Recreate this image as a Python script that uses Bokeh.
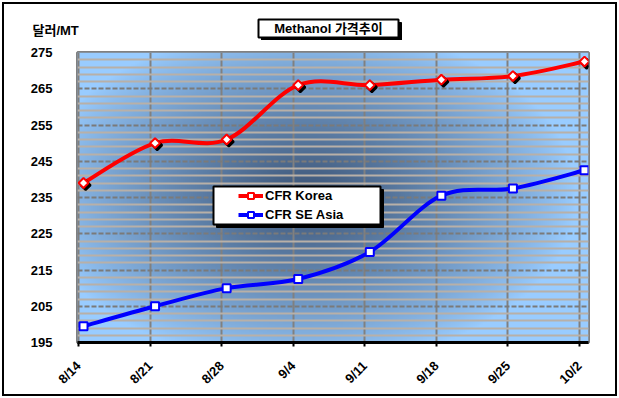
import numpy as np
from bokeh.plotting import figure
from bokeh.layouts import column
from bokeh.models import (FixedTicker, Label, Legend, LegendItem, BoxAnnotation,
                          ColumnDataSource, Range1d)
from bokeh.transform import dodge
from bokeh.embed import file_html
from bokeh.resources import INLINE

# ---- data ----
dates = ["8/14", "8/21", "8/28", "9/4", "9/11", "9/18", "9/25", "10/2"]
korea = [239, 250, 251, 266, 266, 267.5, 268.5, 272.5]
se_asia = [199.5, 205, 210, 212.5, 220, 235.5, 237.5, 242.5]
y_ticks = [195, 205, 215, 225, 235, 245, 255, 265, 275]
y_minor = [v for v in range(195, 276, 2) if v not in y_ticks]
x_idx = list(range(len(dates)))
title_text = "Methanol 가격추이"
unit_text = "달러/MT"

FONT = "Liberation Sans, Noto Sans CJK KR"

# ---- header strip (title box and unit label) ----
HDR = 36
top = figure(width=611, height=HDR, x_range=Range1d(0, 611), y_range=Range1d(0, HDR),
             output_backend="svg", toolbar_location=None, min_border=0,
             x_axis_location=None, y_axis_location=None,
             background_fill_color="white", border_fill_color="white")
top.frame_align = False
top.outline_line_color = None
top.grid.visible = False
top.add_layout(BoxAnnotation(left=257, right=397, bottom=0, top=18,
                             fill_color="black", fill_alpha=1, line_color="black",
                             line_alpha=1))
top.add_layout(BoxAnnotation(left=254, right=394, bottom=3, top=21,
                             fill_color="white", fill_alpha=1, line_color="black",
                             line_width=2, line_alpha=1))
top.add_layout(Label(x=324, y=12, text=title_text, text_align="center",
                     text_baseline="middle", text_font=FONT,
                     text_font_style="bold", text_font_size="13px",
                     text_color="black"))
top.add_layout(Label(x=28, y=10, text=unit_text, text_align="left",
                     text_baseline="middle", text_font=FONT,
                     text_font_style="bold", text_font_size="13px",
                     text_color="black"))

# ---- main chart ----
p = figure(width=611, height=390 - HDR,
           x_range=Range1d(-0.014, 7.126), y_range=Range1d(195, 275),
           output_backend="svg", toolbar_location=None,
           min_border_left=73, min_border_top=12, min_border_right=27,
           min_border_bottom=52,
           background_fill_color="#99CCFF", border_fill_color="white")
p.frame_align = False

# background gradient (decoration)
nx, ny = 256, 145
fx0, fx1 = 77.0, 588.0
fy0, fy1 = 342.0, 52.0
PX = fx0 + (np.arange(nx) + 0.5) * (fx1 - fx0) / nx
PY = fy0 - (np.arange(ny) + 0.5) * (fy0 - fy1) / ny
GX, GY = np.meshgrid(PX, PY)
r = np.sqrt(((GX - 305) / 270.0) ** 2 + ((GY - 195) / 170.0) ** 2)
t = np.clip(1 - r, 0, 1) ** 0.85
light = np.array([153, 204, 255])
dark = np.array([60, 84, 118])
rgb = light[None, None, :] * (1 - t[..., None]) + dark[None, None, :] * t[..., None]
img = np.empty((ny, nx), dtype=np.uint32)
view = img.view(dtype=np.uint8).reshape((ny, nx, 4))
view[..., 0] = rgb[..., 0].astype(np.uint8)
view[..., 1] = rgb[..., 1].astype(np.uint8)
view[..., 2] = rgb[..., 2].astype(np.uint8)
view[..., 3] = 255
p.image_rgba(image=[img], x=p.x_range.start, y=p.y_range.start,
             dw=p.x_range.end - p.x_range.start, dh=p.y_range.end - p.y_range.start,
             level="image")

p.outline_line_color = "#808080"
p.outline_line_width = 3

p.xgrid.ticker = FixedTicker(ticks=x_idx)
p.xgrid.grid_line_color = "#808080"
p.xgrid.grid_line_width = 2

p.ygrid.ticker = FixedTicker(ticks=y_ticks, minor_ticks=y_minor)
p.ygrid.grid_line_color = "#7A7A7A"
p.ygrid.grid_line_width = 2
p.ygrid.grid_line_dash = "5 2"
p.ygrid.minor_grid_line_color = "#B8B0A8"
p.ygrid.minor_grid_line_width = 2

p.xaxis.ticker = FixedTicker(ticks=x_idx)
p.xaxis.major_label_overrides = {i: d for i, d in zip(x_idx, dates)}
p.xaxis.axis_line_color = "black"
p.xaxis.axis_line_width = 3
p.xaxis.major_tick_in = 0
p.xaxis.major_tick_out = 4
p.xaxis.major_tick_line_width = 2
p.xaxis.minor_tick_line_color = None
p.xaxis.major_label_orientation = np.pi / 4
p.xaxis.major_label_standoff = 17
p.xaxis.major_label_text_font = FONT
p.xaxis.major_label_text_font_style = "bold"
p.xaxis.major_label_text_font_size = "13px"
p.xaxis.major_label_text_color = "black"

p.yaxis.ticker = FixedTicker(ticks=y_ticks)
p.yaxis.axis_line_color = None
p.yaxis.major_tick_line_color = None
p.yaxis.minor_tick_line_color = None
p.yaxis.major_label_standoff = 19
p.yaxis.major_label_text_font = FONT
p.yaxis.major_label_text_font_style = "bold"
p.yaxis.major_label_text_font_size = "13px"
p.yaxis.major_label_text_color = "black"


# smoothed series
def bez_source(vals):
    n = len(vals)
    d = dict(x0=[], y0=[], x1=[], y1=[], cx0=[], cy0=[], cx1=[], cy1=[])
    for i in range(n - 1):
        a, b = max(i - 1, 0), min(i + 2, n - 1)
        d["x0"].append(x_idx[i]); d["y0"].append(vals[i])
        d["x1"].append(x_idx[i + 1]); d["y1"].append(vals[i + 1])
        d["cx0"].append(x_idx[i] + (x_idx[i + 1] - x_idx[a]) / 6)
        d["cy0"].append(vals[i] + (vals[i + 1] - vals[a]) / 6)
        d["cx1"].append(x_idx[i + 1] - (x_idx[b] - x_idx[i]) / 6)
        d["cy1"].append(vals[i + 1] - (vals[b] - vals[i]) / 6)
    return ColumnDataSource(d)


SHIFT = 0.07
ksrc = ColumnDataSource(dict(x=x_idx, y=korea))
ssrc = ColumnDataSource(dict(x=x_idx, y=se_asia))

kb = p.bezier(x0=dodge("x0", SHIFT), y0="y0", x1=dodge("x1", SHIFT), y1="y1",
              cx0=dodge("cx0", SHIFT), cy0="cy0", cx1=dodge("cx1", SHIFT), cy1="cy1",
              source=bez_source(korea), line_color="#FF0000", line_width=4)
sb = p.bezier(x0=dodge("x0", SHIFT), y0="y0", x1=dodge("x1", SHIFT), y1="y1",
              cx0=dodge("cx0", SHIFT), cy0="cy0", cx1=dodge("cx1", SHIFT), cy1="cy1",
              source=bez_source(se_asia), line_color="#0000FF", line_width=4)

# marker shadows (Korea series)
p.scatter(x=dodge("x", SHIFT + 0.03), y=dodge("y", -0.6), source=ksrc,
          marker="square", angle=np.pi / 4, size=7, fill_color="black",
          line_color="black", line_width=2)

ks = p.scatter(x=dodge("x", SHIFT), y="y", source=ksrc, marker="square",
               angle=np.pi / 4, size=7, fill_color="white", line_color="#FF0000",
               line_width=2)
ss = p.scatter(x=dodge("x", SHIFT), y="y", source=ssrc, marker="square",
               size=8, fill_color="white", line_color="#0000FF", line_width=2)

# legend
p.add_layout(BoxAnnotation(left=139, right=306, bottom=115, top=153,
                           left_units="screen", right_units="screen",
                           bottom_units="screen", top_units="screen",
                           fill_color="black", fill_alpha=1, line_color="black",
                           line_alpha=1))
p.add_layout(BoxAnnotation(left=136, right=303, bottom=118, top=156,
                           left_units="screen", right_units="screen",
                           bottom_units="screen", top_units="screen",
                           fill_color="white", fill_alpha=1, line_color="black",
                           line_width=2, line_alpha=1))
legend = Legend(items=[LegendItem(label="CFR Korea", renderers=[kb, ks]),
                       LegendItem(label="CFR SE Asia", renderers=[sb, ss])],
                location=(161, 120), padding=0, spacing=4, margin=0,
                glyph_width=25, glyph_height=15, label_height=15,
                label_standoff=2, border_line_color=None,
                background_fill_alpha=0,
                label_text_font=FONT, label_text_font_style="bold",
                label_text_font_size="13px", label_text_color="black")
p.add_layout(legend)

page = column(top, p, spacing=0,
              styles={"border": "2px solid black", "margin": "2px",
                      "box-sizing": "content-box"})

open("out.html", "w").write(file_html(page, INLINE))
